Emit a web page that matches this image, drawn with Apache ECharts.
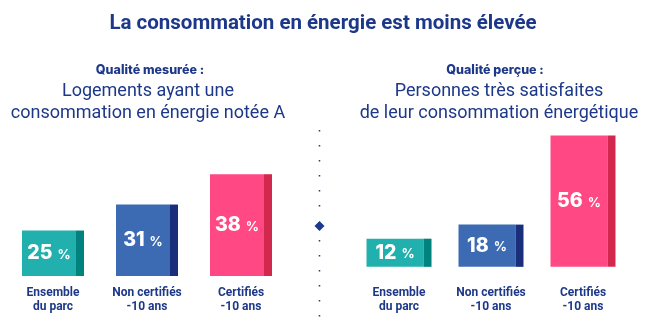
<!DOCTYPE html>
<html>
<head>
<meta charset="utf-8">
<script src="https://cdn.jsdelivr.net/npm/echarts@6/dist/echarts.min.js"></script>
<style>html,body{margin:0;padding:0;background:#fff}#c{width:646px;height:323px}</style>
</head>
<body>
<div id="c"></div>
<script>
const categories = ['Ensemble\ndu parc', 'Non certifiés\n-10 ans', 'Certifiés\n-10 ans'];
const measuredValues = [25, 31, 38];
const perceivedValues = [12, 18, 56];
const mainTitle = 'La consommation en énergie est moins élevée';
const leftKicker = 'Qualité mesurée :';
const leftSubtitle = 'Logements ayant une\nconsommation en énergie notée A';
const rightKicker = 'Qualité perçue :';
const rightSubtitle = 'Personnes très satisfaites\nde leur consommation énergétique';

const mainColors = ['#22B0AE', '#3C6BB4', '#FF4884'];
const sideColors = ['#00837F', '#1A2F7B', '#D3284E'];
const navy = '#1d3889';
const FONT = 'Roboto, "Open Sans", sans-serif';

function mainData(vals) {
  return vals.map((v, i) => ({ value: v, itemStyle: { color: mainColors[i] } }));
}
function sideData(vals) {
  return vals.map((v, i) => ({ value: v, itemStyle: { color: sideColors[i] } }));
}
const valueLabel = {
  show: true,
  position: 'inside',
  formatter: p => '{n|' + p.value + '}{s|}{p|%}',
  rich: {
    n: { fontFamily: 'Inter, ' + FONT, fontWeight: 800, fontSize: 19.5, color: '#fff' },
    s: { width: 5, fontSize: 8 },
    p: { fontFamily: 'Inter, ' + FONT, fontWeight: 700, fontSize: 13, color: '#fff', padding: [3, 0, 0, 0] }
  }
};
function xAx(gi) {
  return {
    gridIndex: gi, type: 'category', data: categories,
    axisLine: { show: false }, axisTick: { show: false },
    axisLabel: { margin: 10, fontFamily: FONT, fontWeight: 700, fontSize: 12, lineHeight: 14, color: navy, interval: 0 }
  };
}
function yAx(gi, mn, mx) {
  return { gridIndex: gi, type: 'value', min: mn, max: mx, show: false, splitLine: { show: false } };
}

const chart = echarts.init(document.getElementById('c'), null, { renderer: 'canvas' });
chart.setOption({
  animation: false,
  title: [
    { text: mainTitle, left: 'center', top: 8, textStyle: { fontFamily: FONT, fontWeight: 700, fontSize: 20.5, color: navy } },
    { text: leftKicker, left: 145, textAlign: 'center', top: 59, textStyle: { fontFamily: 'Inter, ' + FONT, fontWeight: 800, fontSize: 12.5, color: navy } },
    { text: leftSubtitle, left: 143, textAlign: 'center', top: 75, textStyle: { fontFamily: FONT, fontWeight: 400, fontSize: 18, lineHeight: 22, color: navy } },
    { text: rightKicker, left: 490, textAlign: 'center', top: 59, textStyle: { fontFamily: 'Inter, ' + FONT, fontWeight: 800, fontSize: 12.5, color: navy } },
    { text: rightSubtitle, left: 494, textAlign: 'center', top: 75, textStyle: { fontFamily: FONT, fontWeight: 400, fontSize: 18, lineHeight: 22, color: navy } }
  ],
  grid: [
    { left: 6, width: 282, top: 140, bottom: 47 },
    { left: 353, width: 276, top: 130, bottom: 47 }
  ],
  xAxis: [xAx(0), xAx(1)],
  yAxis: [yAx(0, 14.5, 45.9), yAx(1, -3.9, 58.3)],
  series: [
    { type: 'bar', xAxisIndex: 0, yAxisIndex: 0, data: mainData(measuredValues), barWidth: 54, barGap: 0, label: valueLabel },
    { type: 'bar', xAxisIndex: 0, yAxisIndex: 0, data: sideData(measuredValues), barWidth: 8, barGap: 0 },
    { type: 'bar', xAxisIndex: 1, yAxisIndex: 1, data: mainData(perceivedValues), barWidth: 57, barGap: 0, label: valueLabel },
    { type: 'bar', xAxisIndex: 1, yAxisIndex: 1, data: sideData(perceivedValues), barWidth: 8, barGap: 0 }
  ],
  graphic: [
    { type: 'line', shape: { x1: 319.5, y1: 130, x2: 319.5, y2: 207 }, style: { stroke: navy, lineWidth: 1.5, lineDash: [1.5, 13.5] } },
    { type: 'line', shape: { x1: 319.5, y1: 240, x2: 319.5, y2: 320 }, style: { stroke: navy, lineWidth: 1.5, lineDash: [1.5, 13.5] } },
    { type: 'polygon', shape: { points: [[319.5, 221], [324.5, 226], [319.5, 231], [314.5, 226]] }, style: { fill: '#1a3a8e' } }
  ]
});
</script>
</body>
</html>
